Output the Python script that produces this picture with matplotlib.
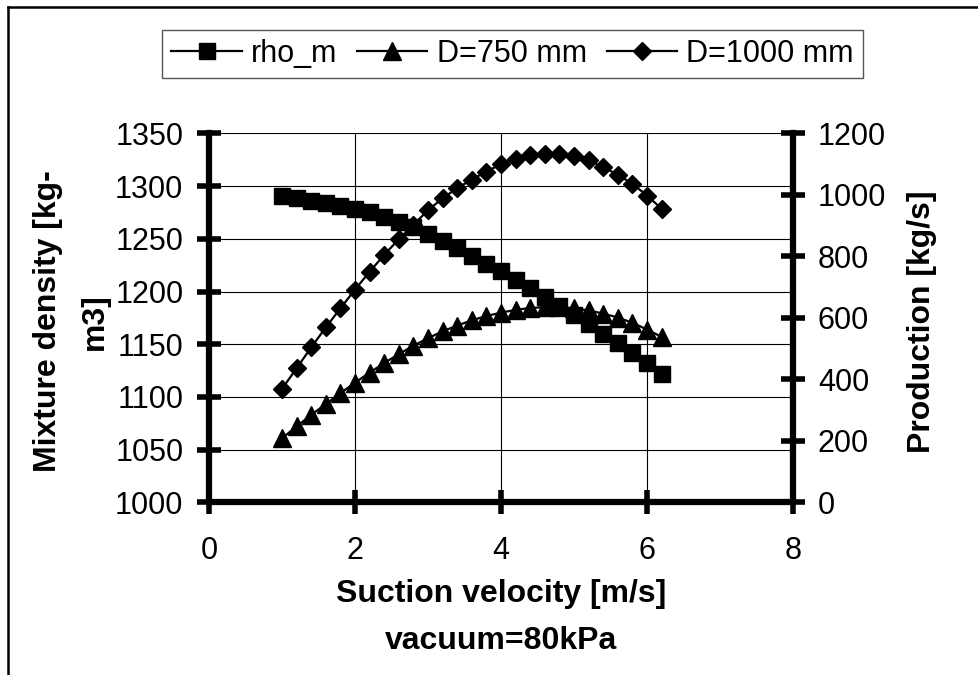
import matplotlib.pyplot as plt
from matplotlib.lines import Line2D

# suction velocity [m/s]
velocity = [1.0, 1.2, 1.4, 1.6, 1.8, 2.0, 2.2, 2.4, 2.6, 2.8, 3.0, 3.2, 3.4, 3.6,
            3.8, 4.0, 4.2, 4.4, 4.6, 4.8, 5.0, 5.2, 5.4, 5.6, 5.8, 6.0, 6.2]
# mixture density [kg/m3] (left axis)
rho_m = [1291, 1289, 1286, 1284, 1281, 1278, 1275, 1271, 1266, 1261, 1255, 1248, 1241, 1234,
         1226, 1219, 1211, 1203, 1195, 1186, 1178, 1169, 1160, 1151, 1142, 1132, 1122]
# production [kg/s] (right axis)
prod_750 = [208, 247, 284, 320, 355, 389, 422, 453, 482, 509, 534, 556, 575, 592,
            606, 617, 626, 632, 635, 635, 631, 624, 614, 601, 584, 562, 538]
prod_1000 = [369, 436, 504, 569, 631, 692, 750, 805, 856, 903, 950, 989, 1022, 1050,
             1076, 1100, 1118, 1129, 1134, 1134, 1126, 1113, 1090, 1066, 1036, 998, 955]

x_ticks = [0, 2, 4, 6, 8]
rho_ticks = [1000, 1050, 1100, 1150, 1200, 1250, 1300, 1350]
prod_ticks = [0, 200, 400, 600, 800, 1000, 1200]

plt.rcParams['font.family'] = ['Liberation Sans', 'DejaVu Sans']

fig = plt.figure(figsize=(9.79, 6.75), dpi=100)
ax = fig.add_axes([0.2135, 0.2559, 0.5965, 0.5464])
ax2 = ax.twinx()
# density series sits on top of the production series
ax.set_zorder(ax2.get_zorder() + 1)
ax.patch.set_visible(False)

l1, = ax.plot(velocity, rho_m, color='black', lw=1.6, marker='s', ms=12, label='rho_m')
l2, = ax2.plot(velocity, prod_750, color='black', lw=1.6, marker='^', ms=12.5, label='D=750 mm')
l3, = ax2.plot(velocity, prod_1000, color='black', lw=1.6, marker='D', ms=9.3, label='D=1000 mm')

ax.set_xlim(0, 8)
ax.set_xticks(x_ticks)
ax.set_ylim(1000, 1350)
ax.set_yticks(rho_ticks)
ax2.set_ylim(0, 1200)
ax2.set_yticks(prod_ticks)

ax.grid(True, color='black', lw=0.8)

for a in (ax, ax2):
    a.spines['top'].set_visible(False)
    for s in a.spines.values():
        s.set_linewidth(4.5)
ax.spines['right'].set_visible(False)
ax2.spines['left'].set_visible(False)
ax2.spines['bottom'].set_visible(False)

ax.tick_params(axis='both', direction='inout', length=17, width=4, labelsize=22)
ax.tick_params(axis='x', pad=16)
ax.tick_params(axis='y', pad=10)
ax2.tick_params(axis='y', direction='inout', length=17, width=4, labelsize=22, pad=9.5)

ax.set_xlabel('Suction velocity [m/s]\nvacuum=80kPa', fontsize=23, fontweight='bold',
              linespacing=1.72)
ax.xaxis.set_label_coords(0.5, -0.209)
ax.set_ylabel('Mixture density [kg-\nm3]', fontsize=23, fontweight='bold', linespacing=1.72)
ax.yaxis.set_label_coords(-0.17, 0.49)
ax2.set_ylabel('Production [kg/s]', fontsize=23, fontweight='bold')
ax2.yaxis.set_label_coords(1.195, 0.49)

leg = fig.legend(handles=[l1, l2, l3], loc='center', bbox_to_anchor=(0.5235, 0.92), ncol=3,
                 fontsize=22, fancybox=False, framealpha=1, edgecolor='#555555',
                 handlelength=2.3, handletextpad=0.3, columnspacing=0.65,
                 borderpad=0.3, borderaxespad=0)
leg.get_frame().set_linewidth(1.0)

# outer chart frame (left and top only)
fig.add_artist(Line2D([8 / 979, 8 / 979], [0, 1 - 7 / 675], transform=fig.transFigure,
                      color='black', lw=1.8))
fig.add_artist(Line2D([8 / 979, 1], [1 - 7 / 675, 1 - 7 / 675], transform=fig.transFigure,
                      color='black', lw=1.8))

fig.savefig('out.png', dpi=100)
